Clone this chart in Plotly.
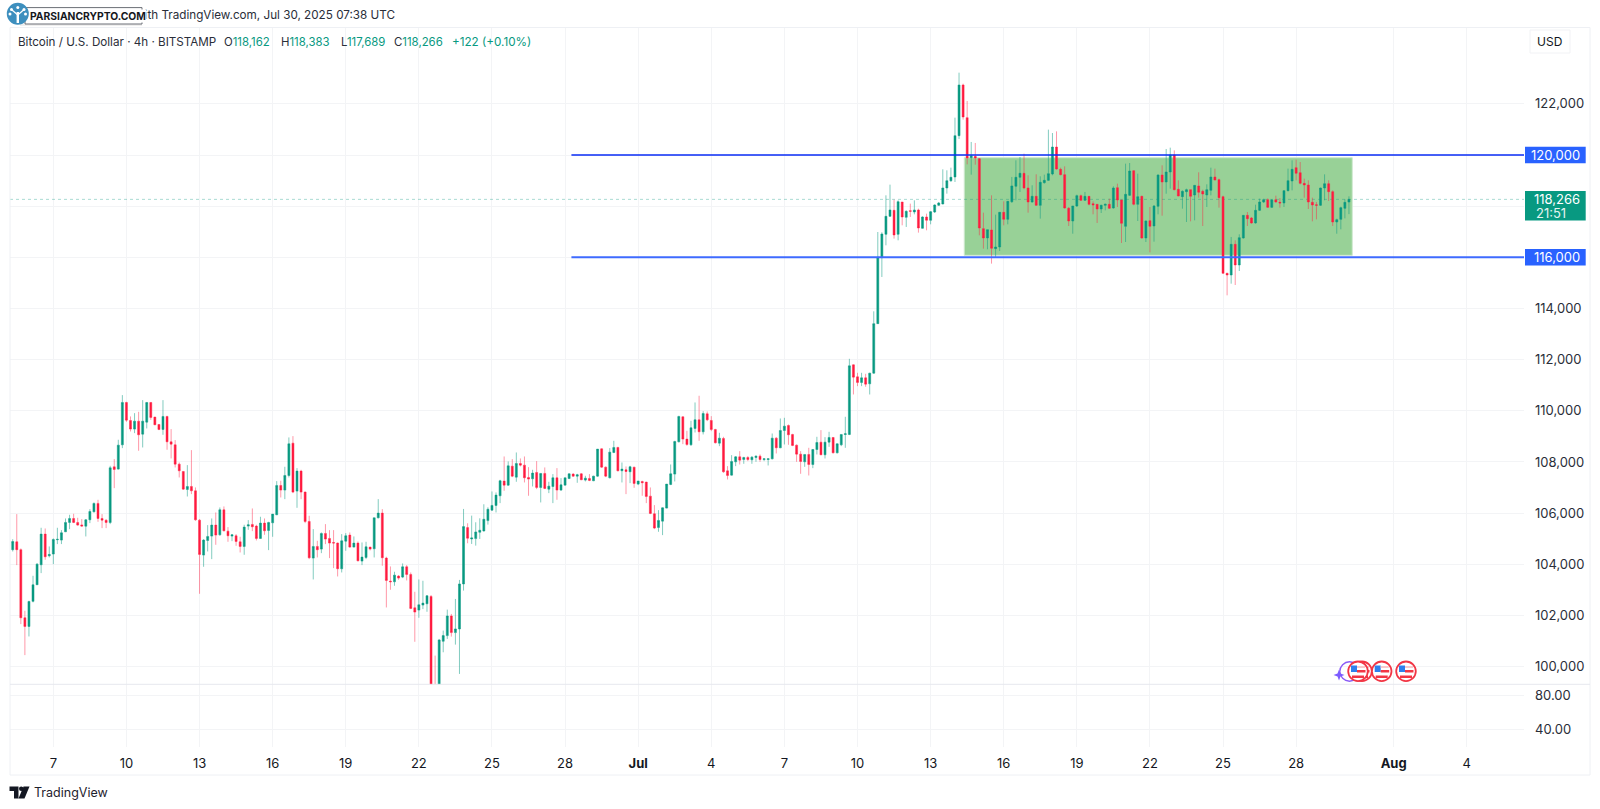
import pandas as pd
import plotly.graph_objects as go

times = pd.date_range("2025-06-05 08:00", periods=330, freq="4h")

opens = [
104570,104880,104570,101910,101570,102550,103200,103980,105180,104332,
104400,104960,104945,105270,105635,105790,105635,105540,105490,105740,
106050,106380,105790,105720,105635,107810,107720,108670,110326,109620,
109284,109596,109088,109557,110326,109753,109466,109270,109779,108788,
108670,107915,107629,106925,107042,106873,105726,104358,104932,105101,
105531,105153,106130,105296,105101,105114,104879,104697,105492,105557,
105492,105010,105609,105322,105622,105935,107081,106899,107472,108736,
106860,107642,106821,105674,104241,104697,104593,105205,105010,104853,
104827,103824,104905,105140,104671,104827,104124,104267,104671,104606,
105818,106000,104241,103342,103316,103537,103498,103902,103602,102299,
102208,102404,102456,102743,98700,98500,100990,101212,101980,101329,
101472,103231,105433,104990,105004,105251,105303,105707,106117,106300,
106678,107251,107094,107837,107407,107942,107876,107394,107342,107590,
107003,107551,106938,107042,107381,106899,107094,107355,107525,107446,
107537,107290,107355,107264,107446,108515,107798,107381,108371,108567,
107655,107694,107616,107798,107134,107238,107212,106664,105974,105440,
105687,106196,107121,107525,108788,109766,108893,108671,109310,109648,
109179,109882,109622,109270,108736,108918,107654,107485,108006,108201,
108097,108175,108084,108175,108228,108097,108097,108123,108931,108553,
109231,109426,109075,108657,108306,108006,108293,107902,108488,108775,
108280,108775,108957,108358,108671,109075,109075,111798,111329,111107,
111290,111055,111472,113407,115987,116900,117603,117838,116899,118163,
117564,117825,117772,117851,117134,117577,117447,117772,118033,118085,
118711,118997,119141,120756,122737,121460,119896,119948,119857,117121,
116756,117069,116339,116404,117759,117486,118176,118776,119128,119284,
118711,118163,118385,118033,118919,119010,119258,120313,119440,119232,
117916,117420,118007,118410,118228,118384,118098,118072,117889,118032,
118072,117928,118723,118241,117212,118423,119387,118072,118384,116756,
117433,117225,117993,119218,118944,119335,120000,118658,118371,118567,
118645,118436,118788,118580,118436,118619,119140,119036,118371,115374,
115309,116508,115700,116756,117642,117537,117342,117837,118163,118254,
117954,118254,118150,118124,118606,118984,119505,119309,118892,118827,
118150,118058,118032,118710,118879,118567,117381,117485,117915,118162,
]
highs = [
104980,105961,104620,102182,102573,103550,104045,105427,105400,104697,
105010,105427,105335,105791,105935,105974,105818,105765,105765,106156,
106417,106521,105961,105765,107850,108111,108867,110613,110352,109779,
109909,109961,110417,110340,110340,109766,109479,110417,109805,109284,
108853,107980,107642,107876,108463,107003,105765,104984,105531,105791,
106026,106222,106261,105453,105166,105179,105075,105544,105726,106182,
105544,105857,105791,105661,105961,107251,107264,107811,108958,109010,
107759,107694,106847,105896,105374,104918,105244,105570,105335,105335,
104853,105179,105218,105244,105088,104892,104853,104879,104684,105818,
106547,106156,104293,103915,103707,103576,104033,103967,103680,102925,
103407,103355,102795,102795,100430,101081,101407,102228,102059,102645,
103388,106163,105603,105902,105642,105798,106346,106228,106847,106808,
107303,108215,108020,108111,108371,108137,108215,107798,107694,108033,
107564,107785,107225,107525,107759,107368,107381,107551,107564,107537,
107564,107459,107525,107459,108502,108528,107824,108541,108827,108593,
107980,107824,107850,107811,107264,107264,107225,107003,106313,106117,
106222,107134,107902,108827,109805,109779,109218,109609,110326,110587,
109987,109974,109791,109296,109140,108983,107837,108267,108228,108423,
108201,108228,108228,108254,108293,108123,108123,109113,108970,109700,
109726,109465,109101,108684,108423,108293,108553,108501,108983,109244,
108970,109179,108970,108723,109075,109765,112032,111811,111485,111485,
111446,111485,113889,116990,116980,118424,118841,118254,118228,118163,
117838,118098,118228,117902,117603,117707,117811,118072,118163,119440,
119401,119505,121460,123219,122789,122111,120509,120470,119883,117746,
117082,118424,117668,117772,118189,118202,119141,119792,119922,120053,
119206,118815,119245,119167,119232,120991,120860,120925,119505,119557,
117968,118007,118450,118450,118554,118384,118189,118072,118059,118098,
118293,118775,118879,118254,119661,119687,119400,119270,118410,117446,
117967,118045,119244,119596,120235,120287,120182,119010,118619,118684,
118645,118814,119322,118645,118853,119505,119466,119075,118410,115400,
116795,116664,116899,117642,117772,117576,118058,118293,118293,118306,
118280,118410,118319,118619,119466,119792,119818,119726,119075,119010,
118332,118163,118723,119244,119010,118619,117511,117980,118267,118383,
]
lows = [
104500,103967,101661,100449,101179,102510,103190,103655,104176,104267,
104006,104788,104790,105260,105374,105610,105505,105466,105088,105610,
106026,105661,105414,105414,105570,106977,107700,108541,109570,109192,
109127,108437,108567,109310,109648,109440,109244,109062,108476,108137,
107785,107394,106912,106651,106743,105700,102847,103902,104502,104202,
104762,105114,105283,104879,104905,104723,104462,104371,105348,105296,
104932,104997,105153,104554,105075,105922,106612,106547,107394,106782,
106208,106547,105609,104202,103407,104267,104436,104788,104241,103850,
103524,103680,104528,104645,104658,104111,103967,104202,104541,104267,
105791,103941,102312,103003,103160,103394,103459,103368,102247,100970,
101909,102247,102143,98400,98300,98300,100560,101081,101173,100860,
99713,102971,104821,104795,104730,104990,105277,105551,106091,106026,
106391,106873,107068,107407,107225,107824,107199,106678,107042,106938,
106417,106938,106782,106391,106521,106873,107090,107329,107420,107186,
107290,107238,107251,107251,107420,107772,107407,107355,108345,107629,
107199,106743,107173,106990,107094,106678,106391,105961,105374,105270,
105140,106183,107094,107238,108762,108697,108632,108632,109153,108827,
109075,109596,109205,108723,108618,107576,107315,107472,107837,107902,
107928,108032,107928,108006,108006,108032,107863,108097,108332,108540,
108684,108671,108618,108006,107537,107810,107472,107758,108293,108267,
108136,108592,108332,108332,108618,108553,109049,110638,110964,110964,
110938,110638,111450,113407,115231,116469,117577,116730,116665,117251,
117186,117577,117681,116965,117121,117056,117290,117733,118007,118072,
118489,118945,118945,120626,121382,119635,119232,119622,116860,116339,
116313,115753,116013,116248,117251,117290,118124,118228,118554,118658,
117746,118137,118007,117512,118880,118984,119206,119427,119206,117902,
117225,116925,117968,118202,118202,118032,117681,117342,117733,117837,
117889,117902,117967,116560,116599,118397,118032,117420,116730,116599,
116195,116612,117681,117628,118488,118684,118619,118384,117902,117381,
117407,117446,118332,117225,117967,118423,119010,117941,115361,114514,
114970,114918,115465,116730,117225,117316,117316,117811,118124,117928,
117928,118137,117941,117967,118580,118619,119010,118853,118332,117889,
117407,117485,118006,118228,118202,117225,116925,117094,117524,117689,
]
closes = [
104890,104570,101909,101570,102547,103198,104006,105179,104293,104384,
104970,104975,105231,105635,105791,105635,105531,105492,105739,106065,
106378,105791,105726,105635,107772,107707,108658,110326,109635,109284,
109596,109062,109596,110326,109740,109453,109270,109779,108788,108697,
107915,107655,106938,107042,106873,105739,104384,104945,105088,105531,
105140,106130,105309,105114,105153,104892,104697,105453,105544,105466,
105010,105609,105309,105635,105961,107081,106899,107472,108710,106821,
107642,106821,105674,104254,104697,104567,105205,104984,104827,104827,
103824,104918,105114,104671,104827,104137,104280,104684,104593,105818,
106000,104254,103368,103316,103576,103459,103902,103602,102273,102130,
102417,102482,102769,98700,98500,101042,101212,101980,101329,101472,
103231,105473,105017,105030,105264,105329,105759,106150,106300,106704,
107264,107094,107850,107446,107942,107876,107381,107329,107564,107003,
107551,106964,107055,107381,106899,107107,107381,107537,107446,107498,
107303,107368,107277,107446,108502,107798,107446,108384,108567,107655,
107720,107629,107811,107160,107251,107186,106651,105987,105414,105713,
106209,107134,107537,108801,109779,108893,108684,109336,109648,109179,
109895,109648,109270,108749,108931,107615,107472,108019,108201,108071,
108175,108097,108188,108228,108097,108123,108123,108931,108553,109231,
109400,109062,108644,108306,108019,108293,107902,108488,108762,108280,
108775,108957,108358,108710,109075,109101,111759,111316,111107,111290,
111042,111472,113407,116000,116912,117603,117851,116873,118176,117577,
117798,117798,117851,117147,117577,117447,117785,118046,118124,118711,
118997,119128,120756,122737,121486,119883,119974,119883,117147,116756,
117082,116352,116404,117759,117486,118189,118789,119128,119284,118711,
118163,118385,118033,118932,119010,119271,120313,119453,119232,117929,
117420,118007,118411,118228,118384,118072,118046,117889,118032,118072,
117915,118710,118241,117329,118462,119374,118072,118371,116756,117420,
117212,118006,119218,118944,119335,120000,118645,118397,118580,118645,
118384,118814,118541,118475,118645,119140,119023,118332,115374,115309,
116508,115700,116769,117642,117511,117342,117837,118163,118254,117954,
118241,118163,118124,118606,118997,119440,119283,118892,118827,118163,
118045,118032,118710,118879,118567,117381,117472,117941,118149,118266,
]
assert len(opens) == len(highs) == len(lows) == len(closes) == len(times) == 330

price_ticks = list(range(100000, 124000, 2000))
covered_ticks = {116000, 118000, 120000}   # hidden behind the price tags
price_tick_labels = ["" if v in covered_ticks else f"{v:,}" for v in price_ticks]
lower_ticks = [40, 80]
lower_tick_labels = ["40.00", "80.00"]
date_ticks = ["2025-06-07","2025-06-10","2025-06-13","2025-06-16","2025-06-19","2025-06-22",
              "2025-06-25","2025-06-28","2025-07-01","2025-07-04","2025-07-07","2025-07-10",
              "2025-07-13","2025-07-16","2025-07-19","2025-07-22","2025-07-25","2025-07-28",
              "2025-08-01","2025-08-04"]
date_labels = ["7","10","13","16","19","22","25","28","<b>Jul</b>","4","7","10","13","16",
               "19","22","25","28","<b>Aug</b>","4"]
resistance = 120000
support = 116000
last_price = 118266
box_x = ["2025-07-14 09:08", "2025-07-30 07:15"]
box_y = [116078, 119894]
line_start = "2025-06-28 06:15"
x_range = ["2025-06-05 05:20", "2025-08-06 08:24"]

W, H = 1600, 809
GREEN, RED = "#089981", "#FF1A3F"
TEXT = "#131722"
GRID = "#F3F4F6"
BORDER = "#EEF0F4"
BLUE = "#2962FF"
FONT = "Inter"

def px(x): return x / W
def py(y): return 1 - y / H

fig = go.Figure()
fig.add_trace(go.Candlestick(
    x=times, open=opens, high=highs, low=lows, close=closes,
    increasing=dict(line=dict(color="rgba(8,153,129,0.5)", width=1), fillcolor=GREEN),
    decreasing=dict(line=dict(color="rgba(255,26,63,0.45)", width=1), fillcolor=RED),
    whiskerwidth=0, showlegend=False, hoverinfo="skip", xaxis="x", yaxis="y",
))
fig.add_trace(go.Scatter(x=[times[0]], y=[None], xaxis="x", yaxis="y2",
                         showlegend=False, hoverinfo="skip"))

shapes = []
def rect(x0, y0, x1, y1, fill, line=None, lw=0, layer="above"):
    shapes.append(dict(type="rect", xref="paper", yref="paper", x0=px(x0), x1=px(x1),
                       y0=py(y0), y1=py(y1), fillcolor=fill,
                       line=dict(color=line or "rgba(0,0,0,0)", width=lw), layer=layer))
def circle(cx, cy, r, fill, line=None, lw=0):
    shapes.append(dict(type="circle", xref="paper", yref="paper", x0=px(cx-r), x1=px(cx+r),
                       y0=py(cy-r), y1=py(cy+r), fillcolor=fill,
                       line=dict(color=line or "rgba(0,0,0,0)", width=lw), layer="above"))
def path(pts, fill=None, line=None, lw=0, close=True):
    d = "M " + " L ".join(f"{px(x):.5f} {py(y):.5f}" for x, y in pts) + (" Z" if close else "")
    shapes.append(dict(type="path", xref="paper", yref="paper", path=d,
                       fillcolor=fill or "rgba(0,0,0,0)",
                       line=dict(color=line or "rgba(0,0,0,0)", width=lw), layer="above"))
def pline(x0, y0, x1, y1, color, lw=1, dash="solid"):
    shapes.append(dict(type="line", xref="paper", yref="paper", x0=px(x0), x1=px(x1),
                       y0=py(y0), y1=py(y1), line=dict(color=color, width=lw, dash=dash), layer="above"))

# consolidation box and levels, from data values
shapes.append(dict(type="rect", xref="x", yref="y", x0=box_x[0], x1=box_x[1], y0=box_y[0], y1=box_y[1],
                   fillcolor="rgb(152,209,151)", line=dict(color="#CFE8CF", width=1), layer="between"))
shapes.append(dict(type="line", xref="x", yref="y", x0=x_range[0], x1=x_range[1], y0=last_price, y1=last_price,
                   line=dict(color="rgba(8,153,129,0.35)", width=1, dash="dot"), layer="between"))
shapes.append(dict(type="line", xref="x", yref="y", x0=line_start, x1=x_range[1], y0=resistance, y1=resistance,
                   line=dict(color="#0A2CF5", width=1.4), layer="above"))
shapes.append(dict(type="line", xref="x", yref="y", x0=line_start, x1=x_range[1], y0=support, y1=support,
                   line=dict(color="#3F6BFF", width=2), layer="above"))

# frame
pline(10, 27.5, 1590, 27.5, BORDER)
pline(10, 27.5, 10, 775, BORDER)
pline(1590, 27.5, 1590, 775, BORDER)
pline(10, 775, 1590, 775, BORDER)
pline(10, 684.3, 1590, 684.3, "#E6E8EE")

# price tags
rect(1525, 146.7, 1585.7, 163.3, BLUE)
rect(1525, 191, 1585.7, 220.5, GREEN)
rect(1525, 249, 1585.7, 265.5, BLUE)

# USD box
shapes.append(dict(type="rect", xref="paper", yref="paper", x0=px(1530), x1=px(1570), y0=py(53), y1=py(30),
                   fillcolor="white", line=dict(color="#F1F2F5", width=1), layer="above"))

# watermark badge
rect(25, 7.6, 142, 24, "white", "#6B6F76", 1)
rect(20, 24, 142, 26, "rgba(120,120,120,0.12)")
circle(17.8, 13.8, 11, "#3D8FBE")
pline(17.8, 23, 17.8, 12, "white", 2.4)
pline(17.8, 15, 12, 10, "white", 1.2)
pline(17.8, 15, 23.5, 10, "white", 1.2)
for cx, cy in [(11.5, 9.5), (17.8, 7.5), (24, 9.5), (10, 14), (25.5, 14)]:
    circle(cx, cy, 1.5, "white")

# event markers
circle(1349.5, 671.5, 9.7, "rgba(0,0,0,0)", "#8B5CF6", 1.4)
path([(1339, 669.5), (1340.5, 673.5), (1344.5, 675), (1340.5, 676.5), (1339, 680.5),
      (1337.5, 676.5), (1333.5, 675), (1337.5, 673.5)], fill="#7C5CFF")
for cx in (1362, 1358, 1381.7, 1406):
    circle(cx, 671.3, 9.8, "white", "#F23645", 1.8)
    rect(cx - 7, 665.5, cx - 1, 672, "#2F80ED")
    rect(cx - 1, 666, cx + 7, 668, "#F8C9CC")
    rect(cx - 1, 670, cx + 7.5, 672.5, "#F23645")
    rect(cx - 6, 675.5, cx + 6, 678, "#F23645")

# TradingView logo
path([(9.5, 786.5), (18.5, 786.5), (18.5, 798.5), (14, 798.5), (14, 791), (9.5, 791)], fill="#131722")
circle(21.2, 788.7, 2.2, "#131722")
path([(23.5, 786.5), (29.5, 786.5), (24.5, 798.5), (18.5, 798.5)], fill="#131722")

ann = []
def text(x, y, s, size=13, color=TEXT, anchor="left", **kw):
    ann.append(dict(xref="paper", yref="paper", x=px(x), y=py(y), text=s, showarrow=False,
                    xanchor=anchor, yanchor="middle", align=anchor,
                    font=dict(family=FONT, size=size, color=color), **kw))

text(397, 15.5, "with TradingView.com, Jul 30, 2025 07:38 UTC", 11.7, "#2A2E39", "right")
ann.append(dict(xref="paper", yref="paper", x=px(28.5), y=py(15.8), text="<b>PARSIANCRYPTO.COM</b>",
                showarrow=False, xanchor="left", yanchor="middle", bgcolor="white", borderpad=0,
                font=dict(family=FONT, size=10.3, color="#16181D")))
text(16.3, 41.8, "Bitcoin / U.S. Dollar · 4h · BITSTAMP", 11.65, "#2A2E39")
for x, head, val in [(221.5, "O", "118,162"), (278.6, "H", "118,383"), (339, "L", "117,689"), (392, "C", "118,266")]:
    text(x, 41.8, f'{head}<span style="color:{GREEN}">{val}</span>', 11.4, "#2A2E39")
text(450, 41.8, "+122 (+0.10%)", 11.7, GREEN)
text(1549, 41.5, "USD", 12, TEXT, "center")
text(1582, 155, "120,000", 13, "white", "right")
text(1582, 199, "118,266", 13, "white", "right")
text(1534, 213, "21:51", 13, "#E4F3F0")
text(1582, 257.3, "116,000", 13, "white", "right")
text(32, 792.7, "TradingView", 12.5, "#1E222D")

pane_x = [px(10), px(1524)]
fig.update_layout(
    width=W, height=H, autosize=False, margin=dict(l=0, r=0, t=0, b=0),
    paper_bgcolor="white", plot_bgcolor="white", showlegend=False,
    font=dict(family=FONT, color=TEXT),
    shapes=shapes, annotations=ann,
    xaxis=dict(type="date", domain=pane_x, range=x_range, anchor="y2", rangeslider=dict(visible=False),
               tickmode="array", tickvals=date_ticks, ticktext=date_labels, showgrid=True, gridcolor=GRID,
               gridwidth=1, zeroline=False, showline=False, ticks="", ticklabelstandoff=7,
               tickangle=0, tickfont=dict(family=FONT, size=13, color=TEXT)),
    yaxis=dict(domain=[py(684.3), py(27)], range=[99308, 125004], side="right", anchor="x",
               tickmode="array", tickvals=price_ticks, ticktext=price_tick_labels, showgrid=True,
               gridcolor=GRID, zeroline=False, showline=False, ticks="", ticklabelstandoff=10,
               tickfont=dict(family=FONT, size=13, color="#2A2E39")),
    yaxis2=dict(domain=[py(747.3), py(684.3)], range=[18.6, 93.6], side="right", anchor="x",
                tickmode="array", tickvals=lower_ticks, ticktext=lower_tick_labels, showgrid=True,
                gridcolor=GRID, zeroline=False, showline=False, ticks="", ticklabelstandoff=10,
                tickfont=dict(family=FONT, size=13, color="#2A2E39")),
)

fig.write_html("out.html", config=dict(displayModeBar=False),
               post_script="document.body.style.margin='0';document.body.style.overflow='hidden';")
